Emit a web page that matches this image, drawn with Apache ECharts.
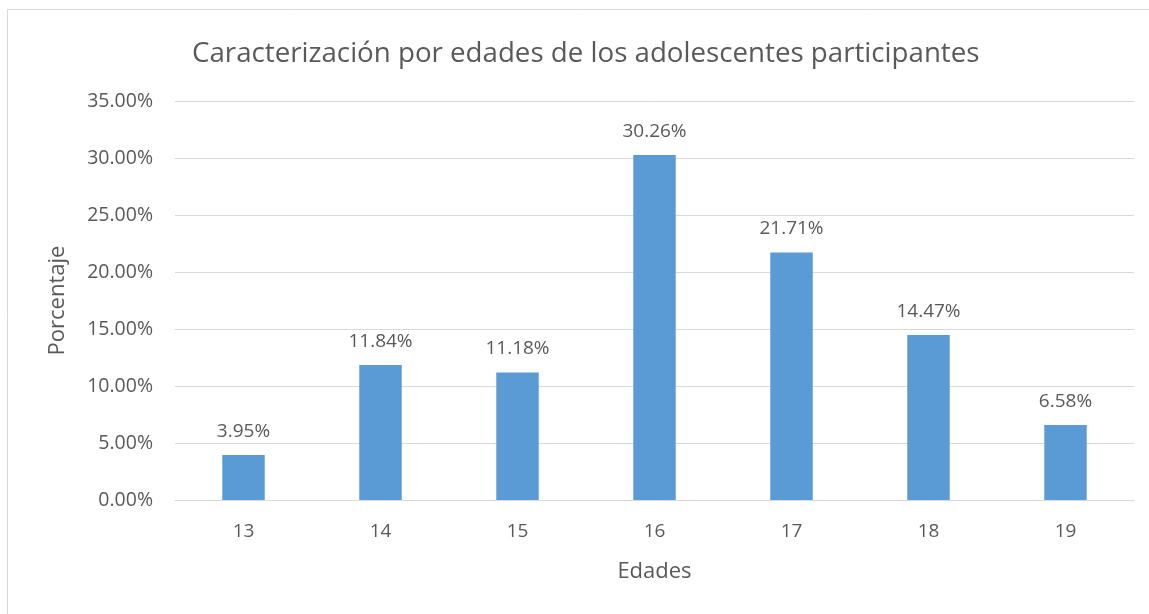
<!DOCTYPE html>
<html>
<head>
<meta charset="utf-8">
<script src="https://cdn.jsdelivr.net/npm/echarts@6/dist/echarts.min.js"></script>
<style>
  html, body { margin: 0; padding: 0; background: #fff; }
  #chart { width: 1149px; height: 614px; }
</style>
</head>
<body>
<div id="chart"></div>
<script>
  var edades = ['13', '14', '15', '16', '17', '18', '19'];
  var porcentajes = [3.95, 11.84, 11.18, 30.26, 21.71, 14.47, 6.58];
  var ticks = { min: 0, max: 35, step: 5 };

  var font = '"Open Sans", "Noto Sans", sans-serif';
  var gris = '#595959';

  var chart = echarts.init(document.getElementById('chart'));
  chart.setOption({
    backgroundColor: '#fff',
    textStyle: { fontFamily: font },
    graphic: [{
      type: 'rect',
      shape: { x: 7.5, y: 9.5, width: 1200, height: 700 },
      style: { fill: 'none', stroke: '#d9d9d9', lineWidth: 1 },
      silent: true
    }],
    title: {
      text: 'Caracterización por edades de los adolescentes participantes',
      left: 187,
      top: 35,
      textStyle: { fontFamily: font, fontSize: 27.7, fontWeight: 'normal', color: gris }
    },
    grid: { left: 175, right: 15, top: 101, bottom: 114 },
    xAxis: {
      type: 'category',
      data: edades,
      name: 'Edades',
      nameLocation: 'middle',
      nameGap: 61,
      nameTextStyle: { fontSize: 22, color: gris },
      axisLine: { lineStyle: { color: '#d9d9d9', width: 1 } },
      axisTick: { show: false },
      axisLabel: { fontSize: 19, color: gris, margin: 22 }
    },
    yAxis: {
      type: 'value',
      min: ticks.min,
      max: ticks.max,
      interval: ticks.step,
      name: 'Porcentaje',
      nameLocation: 'middle',
      nameGap: 106,
      nameTextStyle: { fontSize: 22, color: gris },
      axisLine: { show: false },
      axisTick: { show: false },
      axisLabel: {
        fontSize: 19.5, color: gris, margin: 22,
        formatter: function (v) { return v.toFixed(2) + '%'; }
      },
      splitLine: { lineStyle: { color: '#d9d9d9', width: 1 } }
    },
    series: [{
      type: 'bar',
      data: porcentajes,
      barWidth: '31%',
      itemStyle: { color: '#5b9bd5' },
      label: {
        show: true,
        position: 'top',
        distance: 14,
        fontSize: 19,
        color: gris,
        formatter: function (p) { return p.value.toFixed(2) + '%'; }
      }
    }]
  });
</script>
</body>
</html>
